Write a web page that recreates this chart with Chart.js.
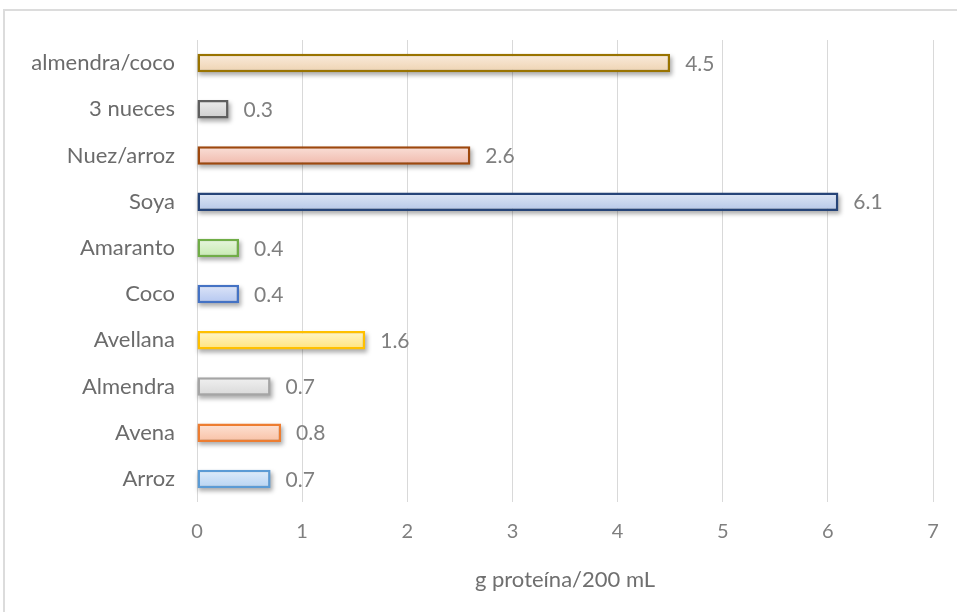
<!DOCTYPE html>
<html>
<head>
<meta charset="utf-8">
<script src="https://cdn.jsdelivr.net/npm/chart.js@4.4.1/dist/chart.umd.min.js"></script>
<style>
  html, body { margin: 0; padding: 0; background: #ffffff; overflow: hidden; }
  #wrap { position: relative; width: 957px; height: 612px; }
  #frame { position: absolute; left: 3px; top: 9px; width: 1000px; height: 700px;
           border: 2px solid #dcdcdc; box-sizing: border-box; }
  canvas { position: absolute; left: 0; top: 0; }
</style>
</head>
<body>
<div id="wrap">
  <div id="frame"></div>
  <canvas id="c" width="957" height="612"></canvas>
</div>
<script>
// Plant-based drinks, bottom to top
const categories = ['Arroz', 'Avena', 'Almendra', 'Avellana', 'Coco', 'Amaranto', 'Soya', 'Nuez/arroz', '3 nueces', 'almendra/coco'];
// Protein content (g per 200 mL)
const protein = [0.7, 0.8, 0.7, 1.6, 0.4, 0.4, 6.1, 2.6, 0.3, 4.5];
const xTicks = [0, 1, 2, 3, 4, 5, 6, 7];
const xTitle = 'g proteína/200 mL';

// Per-bar styling: gradient top, gradient bottom, outline
const palette = [
  ['#e0edfa', '#b6d3f3', '#5b9bd5'],
  ['#fde3d6', '#f9c0a4', '#ed7d31'],
  ['#f1f1f1', '#d8d8d8', '#a5a5a5'],
  ['#fff6cc', '#ffe37a', '#ffc000'],
  ['#dde5f8', '#b3c6f0', '#4472c4'],
  ['#e8f6df', '#c6eab0', '#70ad47'],
  ['#dfe7f5', '#b5c7e8', '#264478'],
  ['#fae0d8', '#f0b9ac', '#9e480e'],
  ['#ececec', '#cdcdcd', '#5f5f5f'],
  ['#faecdd', '#eed2b0', '#997300']
];

const FONT = 'Lato';

// Vertical gradient fill and a soft drop shadow for each bar
const barStyle = {
  id: 'barStyle',
  beforeDatasetsDraw(chart) {
    const ctx = chart.ctx;
    const meta = chart.getDatasetMeta(0);
    ctx.save();
    ctx.filter = 'blur(2px)';
    ctx.fillStyle = 'rgba(0,0,0,0.32)';
    meta.data.forEach((el, i) => {
      const left = Math.min(el.base, el.x);
      const w = Math.abs(el.x - el.base);
      const top = el.y - el.height / 2;
      ctx.fillRect(left + 1, top + 3, w + 1, el.height);
      const g = ctx.createLinearGradient(0, top, 0, top + el.height);
      g.addColorStop(0, palette[i][0]);
      g.addColorStop(1, palette[i][1]);
      el.options.backgroundColor = g;
    });
    ctx.restore();
  }
};

// Value labels to the right of each bar
const valueLabels = {
  id: 'valueLabels',
  afterDatasetsDraw(chart) {
    const ctx = chart.ctx;
    const meta = chart.getDatasetMeta(0);
    ctx.save();
    ctx.font = '21px ' + FONT;
    ctx.fillStyle = '#7f7f7f';
    ctx.textAlign = 'left';
    ctx.textBaseline = 'middle';
    meta.data.forEach((el, i) => {
      ctx.fillText(protein[i].toFixed(1), el.x + 15, el.y + 1);
    });
    ctx.restore();
  }
};

new Chart(document.getElementById('c'), {
  type: 'bar',
  data: {
    labels: categories,
    datasets: [{
      data: protein,
      backgroundColor: palette.map(p => p[0]),
      borderColor: palette.map(p => p[2]),
      borderWidth: 2.5,
      borderSkipped: false,
      barPercentage: 0.4,
      categoryPercentage: 1
    }]
  },
  options: {
    indexAxis: 'y',
    responsive: false,
    animation: false,
    events: [],
    layout: { padding: { top: 40, right: 24, left: 0, bottom: 0 } },
    plugins: { legend: { display: false }, tooltip: { enabled: false } },
    scales: {
      x: {
        min: 0, max: 7,
        afterBuildTicks(scale) { scale.ticks = xTicks.map(v => ({ value: v })); },
        afterFit(scale) { scale.height = 110; },
        grid: { color: '#d9d9d9', lineWidth: 1, drawTicks: false },
        border: { display: false },
        ticks: { color: '#7f7f7f', font: { family: FONT, size: 20 }, padding: 18 },
        title: { display: true, text: xTitle, color: '#6f6f6f',
                 font: { family: FONT, size: 22 }, padding: { top: 0, bottom: 19 } }
      },
      y: {
        reverse: true,
        afterFit(scale) { scale.width = 197; },
        grid: { display: false },
        border: { display: false },
        ticks: { color: '#6b6b6b', font: { family: FONT, size: 22 }, padding: 14 }
      }
    }
  },
  plugins: [barStyle, valueLabels]
});
</script>
</body>
</html>
